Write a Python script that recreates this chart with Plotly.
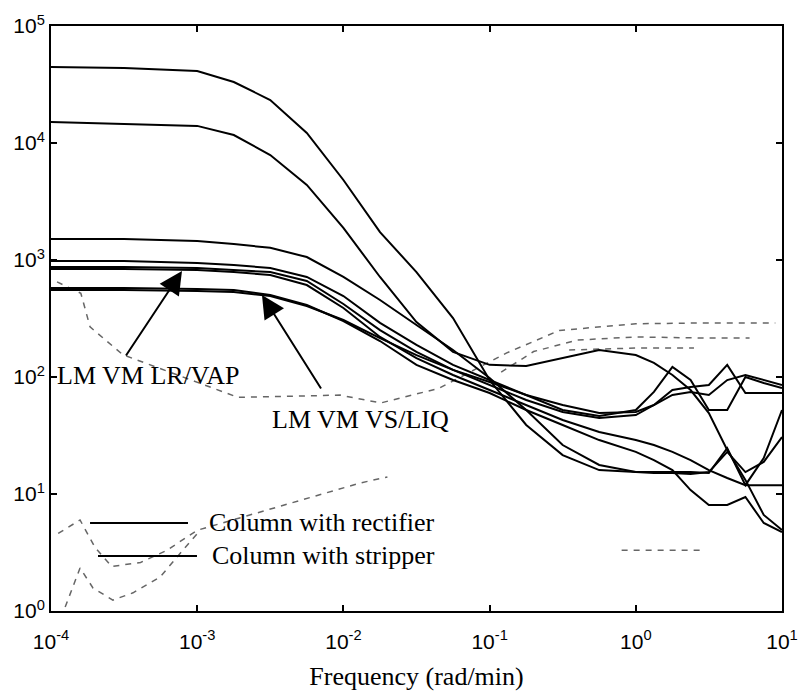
import plotly.graph_objects as go

# Frequency grid (rad/min)
freq = [1e-4, 3.16e-4, 1e-3, 1.78e-3, 3.16e-3, 5.62e-3, 1e-2, 1.78e-2, 3.16e-2, 5.62e-2,
        0.1, 0.178, 0.316, 0.562, 1.0, 1.33, 1.78, 2.37, 3.16, 4.22, 5.62, 7.5, 10.0]

# Solid curves (magnitude)
mag_45000 = [44700, 43800, 41200, 33200, 23300, 12200, 4830, 1730, 789, 319, 94.2, 38.9, 21.5,
             16.0, 15.4, 15.4, 15.4, 15.4, 15.1, 24.7, 11.9, 20.3, 52.2]
mag_15000 = [15100, 14500, 14000, 11700, 7890, 4380, 1880, 716, 295, 164, 127, 124, 145,
             170, 154, 132, 104, 77.4, 49.2, 23.8, 13.2, 6.62, 4.92]
mag_1500 = [1510, 1510, 1450, 1370, 1270, 1060, 716, 455, 278, 170, 98.0, 52.2, 26.2,
            17.7, 15.4, 15.1, 15.1, 14.8, 15.4, 22.9, 15.4, 18.8, 30.7]
mag_980 = [980, 980, 942, 906, 855, 716, 492, 290, 188, 127, 94.2, 70.2, 52.2,
           46.4, 52.2, 74.5, 122, 94.2, 52.2, 52.2, 100, 88.9, 80.5]
mag_870 = [871, 871, 855, 822, 789, 662, 421, 252, 164, 115, 85.5, 63.6, 50.2,
           44.7, 47.3, 57.6, 77.4, 82.2, 85.5, 127, 73.0, 73.0, 73.0]
mag_840 = [838, 838, 822, 789, 745, 611, 389, 220, 145, 104, 77.4, 57.6, 42.9,
           33.9, 28.9, 26.2, 22.9, 19.5, 16.0, 13.7, 11.9, 11.9, 11.9]
mag_575 = [577, 577, 564, 554, 502, 412, 301, 203, 127, 94.2, 73.0, 52.2, 38.9,
           28.9, 22.9, 19.5, 16.0, 10.8, 8.05, 8.05, 9.42, 5.65, 4.73]
mag_555 = [554, 554, 543, 532, 492, 404, 307, 215, 154, 115, 90.6, 70.2, 57.6,
           49.2, 50.2, 57.6, 70.2, 74.5, 70.2, 94.2, 104, 94.2, 85.5]

# Faint dashed curves (poorly reproduced in the scan)
dash1_f = [1.1e-4, 1.6e-4, 1.85e-4, 3.1e-4, 1.9e-3, 9.5e-3, 0.018, 0.045, 0.13, 0.3, 1.0, 3.0, 9.0]
dash1_m = [650, 520, 268, 155, 67, 70, 60, 80, 160, 250, 285, 290, 290]
dash2_f = [0.12, 0.2, 0.4, 1.0, 3.0, 6.0]
dash2_m = [110, 165, 207, 220, 215, 215]
dash3_f = [0.35, 1.0, 2.5]
dash3_m = [170, 177, 177]
dash4_f = [1.25e-4, 1.58e-4, 1.94e-4, 2.65e-4, 3.64e-4, 5.57e-4, 8e-4, 1.05e-3]
dash4_m = [1.08, 2.33, 1.57, 1.24, 1.43, 1.95, 3.32, 4.92]
dash5_f = [1.12e-4, 1.58e-4, 2.0e-4, 2.6e-4, 4.1e-4, 6.2e-4, 1e-3, 0.013, 0.02]
dash5_m = [4.6, 6.0, 3.5, 2.4, 2.6, 3.3, 4.9, 12.4, 14]
dash6_f = [0.8, 1.5, 3.0]
dash6_m = [3.3, 3.3, 3.3]

x_ticks = [1e-4, 1e-3, 1e-2, 1e-1, 1e0, 1e1]
x_ticktext = ["10<sup>-4</sup>", "10<sup>-3</sup>", "10<sup>-2</sup>", "10<sup>-1</sup>",
              "10<sup>0</sup>", "10<sup>1</sup>"]
y_ticks = [1e0, 1e1, 1e2, 1e3, 1e4, 1e5]
y_ticktext = ["10<sup>0</sup>", "10<sup>1</sup>", "10<sup>2</sup>", "10<sup>3</sup>",
              "10<sup>4</sup>", "10<sup>5</sup>"]

fig = go.Figure()

for fx, my in [(dash1_f, dash1_m), (dash2_f, dash2_m), (dash3_f, dash3_m),
               (dash4_f, dash4_m), (dash5_f, dash5_m), (dash6_f, dash6_m)]:
    fig.add_trace(go.Scatter(x=fx, y=my, mode="lines",
                             line=dict(color="#666666", width=1.5, dash="6px,6px"),
                             showlegend=False, hoverinfo="skip"))

for my in [mag_45000, mag_15000, mag_1500, mag_980, mag_870, mag_840, mag_575, mag_555]:
    fig.add_trace(go.Scatter(x=freq, y=my, mode="lines",
                             line=dict(color="black", width=2),
                             showlegend=False))

serif = "Liberation Serif, Times New Roman, serif"
sans = "Liberation Sans, Arial, sans-serif"

axis_common = dict(type="log", showline=True, linecolor="black", linewidth=2,
                   mirror="ticks", ticks="inside", ticklen=6, tickwidth=1.5,
                   tickcolor="black", showgrid=False, zeroline=False, automargin=False,
                   tickfont=dict(family=sans, size=21, color="black"))

fig.update_layout(
    width=800, height=696,
    margin=dict(l=51, r=18, t=26, b=85),
    paper_bgcolor="white", plot_bgcolor="white",
    xaxis=dict(range=[-4, 1], tickvals=x_ticks, ticktext=x_ticktext, ticklabelstandoff=11,
               title=dict(text="Frequency (rad/min)", font=dict(family=serif, size=26, color="black"),
                          standoff=15),
               **axis_common),
    yaxis=dict(range=[0, 5], tickvals=y_ticks, ticktext=y_ticktext, **axis_common),
)

# Legend drawn as in the original (sample lines + labels inside the axes)
fig.add_shape(type="line", xref="paper", yref="paper", x0=0.0534, x1=0.1874, y0=0.1504, y1=0.1504,
              line=dict(color="black", width=2))
fig.add_shape(type="line", xref="paper", yref="paper", x0=0.0643, x1=0.1997, y0=0.0940, y1=0.0940,
              line=dict(color="black", width=2))
fig.add_annotation(text="Column with rectifier", xref="paper", yref="paper", x=0.2134, y=0.1521,
                   xanchor="left", yanchor="middle", showarrow=False,
                   font=dict(family=serif, size=26, color="black"))
fig.add_annotation(text="Column with stripper", xref="paper", yref="paper", x=0.2175, y=0.0957,
                   xanchor="left", yanchor="middle", showarrow=False,
                   font=dict(family=serif, size=26, color="black"))

# Labels with arrows
fig.add_annotation(text="LM VM LR/VAP", xref="paper", yref="paper", x=0.0055, y=0.4034,
                   xanchor="left", yanchor="middle", showarrow=False,
                   font=dict(family=serif, size=26, color="black"))
fig.add_annotation(text="LM VM VS/LIQ", xref="paper", yref="paper", x=0.2996, y=0.3265,
                   xanchor="left", yanchor="middle", showarrow=False,
                   font=dict(family=serif, size=26, color="black"))
fig.add_annotation(text="", x=-3.104, y=2.906, xref="x", yref="y", ax=-57, ay=86,
                   showarrow=True, arrowhead=2, arrowsize=2.3, arrowwidth=2, arrowcolor="black",
                   standoff=0)
fig.add_annotation(text="", x=-2.557, y=2.701, xref="x", yref="y", ax=60, ay=95,
                   showarrow=True, arrowhead=2, arrowsize=2.3, arrowwidth=2, arrowcolor="black",
                   standoff=0)

fig.write_html("out.html", config={"displayModeBar": False},
               post_script="document.body.style.margin='0';document.body.style.overflow='hidden';")
